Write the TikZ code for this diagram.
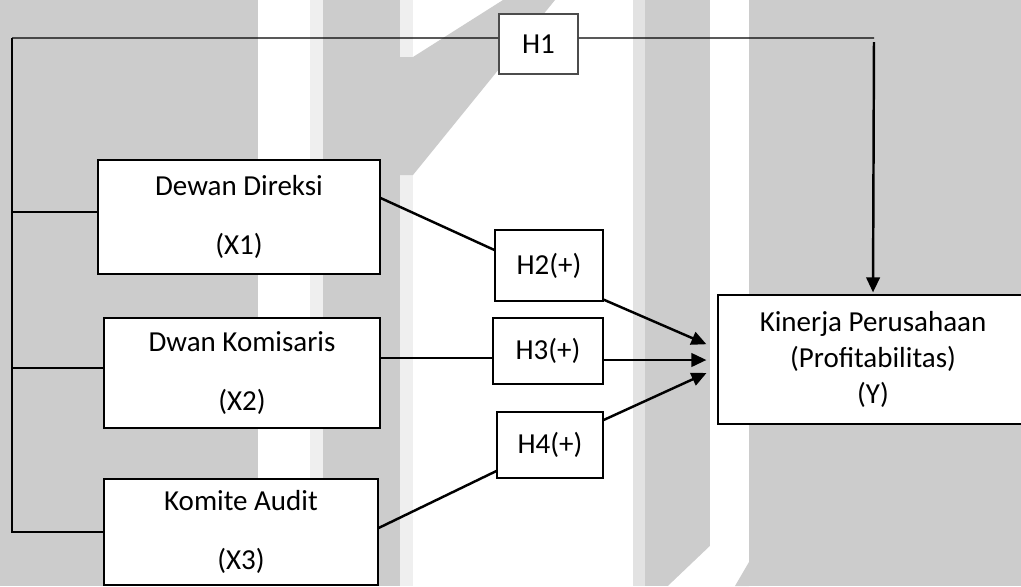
\documentclass[tikz,border=0pt]{standalone}
\usepackage{fontspec}
\setmainfont{Carlito}
\usetikzlibrary{arrows.meta,calc}

\definecolor{wmgray}{HTML}{CCCCCC}
\definecolor{wmlight}{HTML}{EFEFEF}
\definecolor{wmmid}{HTML}{E2E2E2}

\begin{document}
\begin{tikzpicture}[x=0.02cm, y=-0.02cm,
  box/.style={draw, fill=white, line width=0.7pt, align=center, inner sep=0pt},
  rail/.style={line width=0.7pt},
  link/.style={line width=1.4pt},
  arr/.style={line width=1.4pt, -{Triangle[length=0.3cm, width=0.27cm]}},
  font=\fontsize{16.5}{20.5}\selectfont]
\useasboundingbox (0,0) rectangle (1021,586);
% background stripes
\fill[wmgray] (0,0) rectangle (1021,586);
\foreach \a/\b in {258/310, 413/633, 710/749}
  \fill[white] (\a,0) rectangle (\b,586);
\foreach \a/\b in {310/323, 400/413}
  \fill[wmlight] (\a,0) rectangle (\b,586);
\fill[wmmid] (633,0) rectangle (645,586);
\fill[wmgray] (400,57) -- (413,57) -- (503,0) -- (555,0) -- (413,175) -- (400,175) -- cycle;
\fill[white] (710,546) -- (710,586) -- (668,586) -- cycle;
\fill[wmgray] (749,562) -- (749,586) -- (735,586) -- cycle;

% boxes
\node[box, minimum width=5.64cm, minimum height=2.28cm] (dd) at (239,217) {Dewan Direksi\\[13pt](X1)};
\node[box, minimum width=5.52cm, minimum height=2.2cm] (dk) at (242,373) {Dwan Komisaris\\[13pt](X2)};
\node[box, minimum width=5.48cm, minimum height=2.12cm] (ka) at (241,532) {Komite Audit\\[13pt](X3)};
\node[box, draw=black!70, line width=1.1pt, minimum width=1.58cm, minimum height=1.2cm] (h1) at (538.5,44) {H1};
\node[box, minimum width=2.16cm, minimum height=1.42cm] (h2) at (549,265.5) {H2(+)};
\node[box, minimum width=2.2cm, minimum height=1.32cm] (h3) at (548,351) {H3(+)};
\node[box, minimum width=2.12cm, minimum height=1.32cm] (h4) at (550,445) {H4(+)};
\node[box, minimum width=6.2cm, minimum height=2.58cm] (y) at (873,359.5) {Kinerja Perusahaan\\(Profitabilitas)\\(Y)};

\coordinate (tl) at (12,38);
\coordinate (tr) at (874,38);

% H1 path
\draw[rail] (tl) -- ([yshift=0.12cm]h1.west);
\draw[rail] ([yshift=0.12cm]h1.east) -- (tr);
\draw[arr, shorten <=0.08cm, shorten >=0.04cm] (tr) -- (y.north);
\draw[rail] (tl) |- (ka.west);
\draw[rail] ([yshift=0.1cm]dd.west) -- ([yshift=0.1cm]dd.west -| tl);
\draw[rail] ([yshift=0.1cm]dk.west) -- ([yshift=0.1cm]dk.west -| tl);

% X to H
\draw[link] ([yshift=0.38cm]dd.east) -- ([yshift=0.31cm]h2.west);
\draw[link] ([yshift=0.3cm]dk.east) -- ([yshift=0.3cm]dk.east -| h3.west);
\draw[link] ([yshift=0.08cm]ka.east) -- ([yshift=-0.52cm]h4.west);

% H to Y
\draw[arr, shorten >=0.24cm] ([yshift=0.04cm]h2.south east) -- ([yshift=0.21cm]y.west);
\draw[arr, shorten >=0.22cm] ([yshift=-0.18cm]h3.east) -- ([yshift=-0.18cm]h3.east -| y.west);
\draw[arr, shorten >=0.24cm] ([yshift=0.5cm]h4.east) -- ([yshift=-0.17cm]y.west);
\end{tikzpicture}
\end{document}
